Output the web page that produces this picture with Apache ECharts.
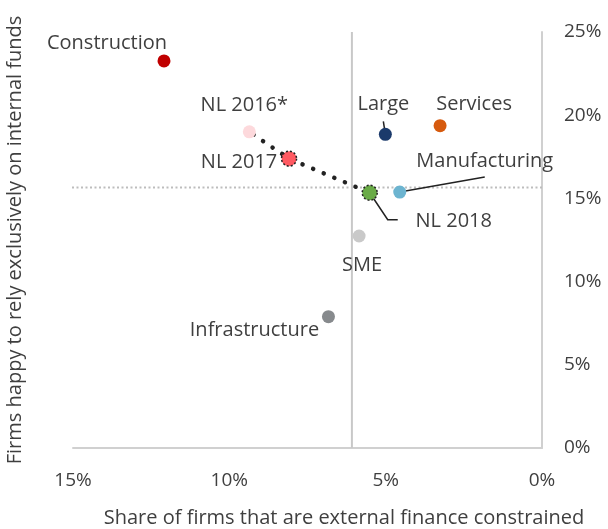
<!DOCTYPE html>
<html>
<head>
<meta charset="utf-8">
<script src="https://cdn.jsdelivr.net/npm/echarts@6/dist/echarts.min.js"></script>
<style>
  html, body { margin: 0; padding: 0; background: #fff; }
  #chart { width: 608px; height: 529px; }
</style>
</head>
<body>
<div id="chart"></div>
<script>
// values (percent)
var names = ['Construction', 'NL 2016*', 'NL 2017', 'Large', 'Services', 'Manufacturing', 'NL 2018', 'SME', 'Infrastructure'];
var constrained = [12.09, 9.36, 8.09, 5.01, 3.26, 4.55, 5.51, 5.85, 6.83];
var internalOnly = [23.26, 19.0, 17.39, 18.85, 19.37, 15.38, 15.34, 12.74, 7.89];
var colors = ['#C00000', '#FDD9DC', '#FF5A62', '#1B3A6B', '#D65A0E', '#6CB4D0', '#6AAB47', '#C9C9C9', '#878A8D'];
var trendNames = ['NL 2016*', 'NL 2017', 'NL 2018'];
var avgConstrained = 6.08;
var avgInternal = 15.65;
var xTicks = [0, 5, 10, 15];
var yTicks = [0, 5, 10, 15, 20, 25];

// label placement (offset from the marker, px)
var labelOffsets = {
  'Construction': [-57, -18],
  'NL 2016*': [-5, -27],
  'NL 2017': [-50, 4],
  'Large': [-2, -30],
  'Services': [34, -21],
  'Manufacturing': [85, -31],
  'NL 2018': [84, 29],
  'SME': [3, 29],
  'Infrastructure': [-74, 14]
};
// leader lines, as pixel offsets from the marker centre
var leaders = {
  'Large': [[-2, -13], [0, 0]],
  'Manufacturing': [[0, 0], [85, -15]],
  'NL 2018': [[0, 0], [18, 27], [28, 27]]
};
var dottedBorder = ['NL 2017', 'NL 2018'];

var font = 'Open Sans';
var textColor = '#3F3F3F';

var points = names.map(function (n, i) {
  var item = {
    name: n,
    value: [constrained[i], internalOnly[i]],
    itemStyle: { color: colors[i], opacity: 1 },
    label: { offset: labelOffsets[n] }
  };
  if (dottedBorder.indexOf(n) >= 0) {
    item.itemStyle.borderColor = '#222';
    item.itemStyle.borderWidth = 1.5;
    item.itemStyle.borderType = [2, 2];
    item.symbolSize = 15;
  }
  return item;
});

var trend = trendNames.map(function (n) {
  var i = names.indexOf(n);
  return [constrained[i], internalOnly[i]];
});

var myChart = echarts.init(document.getElementById('chart'));
myChart.setOption({
  animation: false,
  textStyle: { fontFamily: font },
  grid: { left: 73, right: 66, top: 32, bottom: 81, outerBoundsMode: 'none', containLabel: false },
  xAxis: {
    type: 'value',
    inverse: true,
    min: xTicks[0],
    max: xTicks[xTicks.length - 1],
    interval: 5,
    name: 'Share of firms that are external finance constrained',
    nameLocation: 'middle',
    nameGap: 60,
    nameTextStyle: { color: textColor, fontSize: 20, fontFamily: font, padding: [0, 0, 0, 73] },
    axisLine: { show: true, lineStyle: { color: '#D0D0D0', width: 2 } },
    axisTick: { show: false },
    splitLine: { show: false },
    axisLabel: { color: textColor, fontSize: 19, fontFamily: font, margin: 23, formatter: '{value}%' }
  },
  yAxis: [{
    type: 'value',
    position: 'right',
    min: yTicks[0],
    max: yTicks[yTicks.length - 1],
    interval: 5,
    axisLine: { show: true, lineStyle: { color: '#D0D0D0', width: 2 } },
    axisTick: { show: false },
    splitLine: { show: false },
    axisLabel: { color: textColor, fontSize: 19, fontFamily: font, margin: 22, align: 'left', formatter: '{value}%' }
  }, {
    // left side only carries the axis title
    type: 'value',
    position: 'left',
    min: yTicks[0],
    max: yTicks[yTicks.length - 1],
    interval: 5,
    name: 'Firms happy to rely exclusively on internal funds',
    nameLocation: 'middle',
    nameGap: 48,
    nameTextStyle: { color: textColor, fontSize: 20, fontFamily: font },
    axisLine: { show: false },
    axisTick: { show: false },
    splitLine: { show: false },
    axisLabel: { show: false }
  }],
  series: [
    {
      name: 'avgInternal',
      type: 'line',
      clip: false,
      symbol: 'none',
      silent: true,
      data: [[15.32, avgInternal], [0, avgInternal]],
      lineStyle: { color: '#BDBDBD', width: 2, type: [2, 2.5] },
      z: 1
    },
    {
      name: 'avgConstrained',
      type: 'line',
      symbol: 'none',
      silent: true,
      data: [[avgConstrained, yTicks[0]], [avgConstrained, yTicks[yTicks.length - 1]]],
      lineStyle: { color: '#C8C8C8', width: 2 },
      z: 1
    },
    {
      name: 'trend',
      type: 'line',
      symbol: 'none',
      silent: true,
      data: trend,
      lineStyle: { color: '#222', width: 4.5, type: [0.1, 11.4], cap: 'round', dashOffset: -5 },
      z: 2
    },
    {
      name: 'points',
      type: 'scatter',
      symbolSize: 13,
      data: points,
      itemStyle: { opacity: 1 },
      label: {
        show: true,
        position: 'inside',
        formatter: '{b}',
        color: textColor,
        fontSize: 20,
        fontFamily: font
      },
      z: 4
    }
  ]
});

// leader lines hang off the markers, placed through the chart's own scales
var leaderGraphics = Object.keys(leaders).map(function (n) {
  var i = names.indexOf(n);
  var c = myChart.convertToPixel({ seriesIndex: 3 }, [constrained[i], internalOnly[i]]);
  return {
    type: 'polyline',
    z: 3,
    silent: true,
    shape: { points: leaders[n].map(function (p) { return [c[0] + p[0], c[1] + p[1]]; }) },
    style: { stroke: '#222', lineWidth: 1.5, fill: null }
  };
});
myChart.setOption({ graphic: leaderGraphics });
</script>
</body>
</html>
